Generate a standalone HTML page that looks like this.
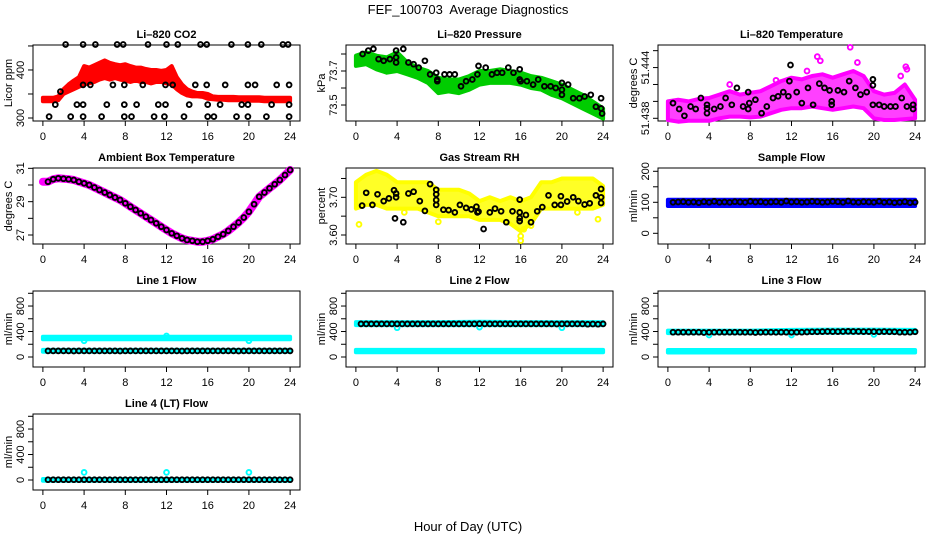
<!DOCTYPE html>
<html><head><meta charset="utf-8"><style>
html,body{margin:0;padding:0;background:#fff;}
svg{display:block;font-family:"Liberation Sans",Arial,sans-serif;}
</style></head><body>
<svg id="chart" width="936" height="540" viewBox="0 0 936 540">
<rect x="0" y="0" width="936" height="540" fill="#fff"/>
<text x="468" y="14" text-anchor="middle" font-size="13">FEF_100703&#160; Average Diagnostics</text>
<text x="468" y="531" text-anchor="middle" font-size="13">Hour of Day (UTC)</text>
</svg>
<script>
const HH=[0,0.5,1,1.5,2,2.5,3,3.5,4,4.5,5,5.5,6,6.5,7,7.5,8,8.5,9,9.5,10,10.5,11,11.5,12,12.5,13,13.5,14,14.5,15,15.5,16,16.5,17,17.5,18,18.5,19,19.5,20,20.5,21,21.5,22,22.5,23,23.5,24];
const H1=[0,1,2,3,4,5,6,7,8,9,10,11,12,13,14,15,16,17,18,19,20,21,22,23,24];
const H4=[0,4,8,12,16,20,24];
const xTicks=[0,4,8,12,16,20,24];
const xTickLabels=["0","4","8","12","16","20","24"];

// CO2
const co2Lo=[335,335,335,337,350,355,360,365,370,372,375,380,383,380,383,380,378,375,378,375,375,372,375,375,372,370,360,352,347,345,345,344,340,339,338,338,337,337,337,337,336,336,336,335,335,335,335,335,335];
const co2Hi=[342,342,342,345,360,370,378,385,408,405,410,415,420,415,412,410,412,408,405,405,402,400,400,398,400,408,385,370,360,355,352,352,350,345,344,344,344,344,343,343,343,343,343,342,342,342,342,342,342];
const co2BlkH=[2.2,3.9,5.1,7.2,7.8,10.2,12.0,13.1,15.3,15.9,18.3,19.9,21.2,23.3,23.8,3.9,4.6,6.8,7.9,9.7,11.9,12.6,14.8,15.9,17.7,19.9,20.6,22.7,23.9,1.2,3.3,3.9,6.2,7.9,9.1,11.2,11.9,14.2,16.0,17.2,19.3,19.9,22.2,23.9,0.6,2.7,3.9,5.7,7.9,8.6,10.8,11.8,13.7,16.0,16.6,18.8,19.9,21.7,23.9,1.7];
const co2BlkV=[453,453,453,453,453,453,453,453,453,453,453,453,453,453,453,369,369,369,369,369,369,369,369,369,369,369,369,369,369,328,328,328,328,328,328,328,328,328,328,328,328,328,328,328,303,303,303,303,303,303,303,303,303,303,303,303,303,303,303,355];

// Pressure
const presLo=[73.73,73.74,73.71,73.69,73.70,73.68,73.66,73.63,73.57,73.58,73.57,73.59,73.62,73.63,73.63,73.63,73.62,73.60,73.59,73.56,73.54,73.51,73.48,73.45,73.42];
const presHi=[73.79,73.81,73.79,73.78,73.81,73.75,73.72,73.70,73.66,73.65,73.65,73.67,73.70,73.70,73.71,73.70,73.69,73.67,73.66,73.64,73.62,73.59,73.56,73.52,73.48];
const presBlkH=[0.65,1.2,1.7,2.2,2.7,3.3,3.9,3.9,3.9,4.6,5.1,5.6,6.1,6.7,7.2,7.8,7.9,7.9,8.6,9.1,9.6,10.2,10.7,11.3,11.8,11.9,12.6,13.2,13.7,14.2,14.8,15.3,15.9,15.9,16.0,16.6,17.2,17.7,18.3,18.9,19.4,20.0,20.0,20.0,20.6,21.1,21.7,22.2,22.8,23.3,23.8,23.8,23.9];
const presBlkV=[73.80,73.82,73.83,73.77,73.76,73.77,73.78,73.75,73.82,73.83,73.75,73.74,73.72,73.76,73.68,73.69,73.64,73.65,73.68,73.68,73.68,73.61,73.64,73.65,73.68,73.73,73.72,73.68,73.69,73.69,73.72,73.69,73.71,73.65,73.64,73.64,73.62,73.65,73.61,73.61,73.60,73.63,73.59,73.56,73.62,73.54,73.54,73.55,73.56,73.49,73.48,73.54,73.45];

// Li-820 temperature
const tempLo=[51.4378,51.4376,51.4377,51.4377,51.4377,51.4380,51.4382,51.4382,51.4381,51.4382,51.4386,51.4390,51.4392,51.4392,51.4394,51.4392,51.4390,51.4392,51.4394,51.4392,51.4380,51.4378,51.4378,51.4379,51.4380];
const tempHi=[51.4400,51.4402,51.4400,51.4403,51.4404,51.4408,51.4412,51.4408,51.4410,51.4412,51.4418,51.4424,51.4428,51.4426,51.4430,51.4432,51.4428,51.4432,51.4436,51.4430,51.4412,51.4408,51.4410,51.4420,51.4402];
const tempOutH=[14.5,14.8,17.7,18.4,23.1,23.2,22.6,13.5,10.5,6.0];
const tempOutV=[51.4453,51.4448,51.4464,51.4446,51.4441,51.4438,51.4430,51.4436,51.4425,51.4420];
const tempBlkH=[0.5,1.1,1.6,2.2,2.7,3.2,3.8,3.8,3.8,4.5,5.1,5.6,6.2,6.7,7.3,7.8,7.8,7.9,8.5,9.1,9.6,10.2,10.7,11.2,11.7,11.8,11.9,12.5,13.0,13.6,14.1,14.7,15.2,15.7,15.9,15.9,16.5,17.1,17.6,18.2,18.7,19.3,19.9,19.9,19.9,20.5,21.0,21.6,22.1,22.7,23.2,23.8,23.8];
const tempBlkV=[51.4398,51.4391,51.4383,51.4394,51.4391,51.4404,51.4396,51.4386,51.4392,51.4391,51.4394,51.4404,51.4396,51.4416,51.4394,51.4391,51.4411,51.4398,51.4402,51.4386,51.4394,51.4404,51.4406,51.4411,51.4406,51.4424,51.4443,51.4411,51.4398,51.4416,51.4396,51.4421,51.4416,51.4413,51.4400,51.4396,51.4413,51.4411,51.4424,51.4416,51.4408,51.4411,51.4426,51.4419,51.4396,51.4396,51.4394,51.4394,51.4394,51.4404,51.4394,51.4396,51.4391];

// Ambient box temperature (index 0 = hour 0)
const ambVals=[30.2,30.2,30.35,30.4,30.38,30.35,30.3,30.2,30.1,30.0,29.85,29.7,29.55,29.4,29.25,29.1,28.9,28.7,28.5,28.3,28.1,27.9,27.7,27.5,27.3,27.1,26.95,26.8,26.7,26.65,26.6,26.6,26.65,26.75,26.9,27.05,27.25,27.5,27.75,28.05,28.4,28.85,29.3,29.55,29.8,30.05,30.3,30.6,30.9];

// Gas stream RH
const rhLo=[3.67,3.68,3.68,3.67,3.67,3.67,3.67,3.66,3.65,3.65,3.65,3.65,3.64,3.64,3.64,3.63,3.61,3.63,3.67,3.67,3.67,3.67,3.67,3.67,3.68];
const rhHi=[3.74,3.76,3.77,3.76,3.74,3.74,3.74,3.74,3.72,3.72,3.72,3.71,3.69,3.70,3.69,3.70,3.69,3.70,3.74,3.74,3.75,3.75,3.75,3.75,3.73];
const rhOutH=[0.3,16.0,16.0,23.5,21.5,4.7,8.0,9.2,16.3,17.0];
const rhOutV=[3.628,3.585,3.597,3.642,3.660,3.660,3.635,3.655,3.615,3.625];
const rhBlkH=[0.6,1.0,1.6,2.1,2.7,3.2,3.7,3.8,3.9,3.9,4.6,5.1,5.6,6.2,6.7,7.2,7.8,7.8,7.8,7.8,8.5,9.0,9.6,10.1,10.7,11.2,11.7,11.8,11.9,12.4,13.0,13.5,14.1,14.6,15.2,15.9,15.9,15.9,15.9,16.5,17.0,17.6,18.1,18.7,19.3,19.9,19.9,20.5,21.1,21.6,22.2,22.7,23.3,23.8,23.8,23.8];
const rhBlkV=[3.678,3.712,3.680,3.708,3.690,3.697,3.719,3.644,3.710,3.700,3.634,3.710,3.715,3.690,3.664,3.735,3.720,3.708,3.693,3.680,3.667,3.666,3.660,3.680,3.672,3.668,3.675,3.660,3.662,3.616,3.660,3.670,3.663,3.634,3.663,3.694,3.660,3.645,3.637,3.653,3.634,3.663,3.674,3.705,3.680,3.703,3.680,3.689,3.700,3.690,3.681,3.684,3.705,3.722,3.700,3.685];

// Flows (black = half-hour averages 0.5..24)
const sampLo=[88,88,88,88,88,88,88];
const sampHi=[108,108,108,108,108,108,108];
const sampBlk=[100,101,102,100,101,99,102,100,103,100,101,100,102,101,100,103,101,102,100,101,102,100,104,101,102,100,101,103,102,100,101,103,102,100,104,101,100,102,101,100,103,100,101,99,100,102,99,100];
const l1UpLo=[280,280,280,280,280,280,280];
const l1UpHi=[318,318,318,318,318,318,318];
const l1DnLo=[82,82,82,82,82,82,82];
const l1DnHi=[112,112,112,112,112,112,112];
const l1SpikeH=[4,12,20];
const l1SpikeV=[255,330,255];
const l1Blk=[95,95,96,95,95,94,95,96,95,95,95,96,95,95,94,95,96,95,95,95,96,95,95,95,96,95,94,95,95,96,95,95,95,96,95,95,95,94,95,96,95,95,95,96,95,95,95,96];
const l2UpLo=[500,500,500,500,500,500,500];
const l2UpHi=[548,548,548,552,548,548,548];
const l2DnLo=[75,75,75,75,75,75,75];
const l2DnHi=[112,112,112,112,112,112,112];
const l2SpikeH=[4,12,20];
const l2SpikeV=[460,470,460];
const l2Blk=[520,520,520,520,520,520,520,520,520,520,520,520,520,520,520,520,520,520,520,520,520,520,520,522,520,520,520,520,520,520,520,520,520,520,520,520,520,520,518,520,520,520,520,520,515,518,515,520];
const l3UpLo=[375,375,375,378,380,380,380];
const l3UpHi=[415,415,415,425,430,430,425];
const l3DnLo=[70,70,70,70,70,70,70];
const l3DnHi=[110,110,110,110,110,110,110];
const l3SpikeH=[4,12,20];
const l3SpikeV=[345,345,355];
const l3Blk=[390,390,390,390,390,390,385,388,390,390,390,390,390,390,388,390,385,388,390,390,388,390,390,388,390,390,392,395,395,398,400,398,398,400,402,400,400,398,398,398,395,398,395,395,390,390,390,395];
const l4Lo=[-12,-12,-12,-12,-12,-12,-12];
const l4Hi=[15,15,15,15,15,15,15];
const l4SpikeH=[4,12,20];
const l4SpikeV=[120,120,120];
const l4Blk=[5,5,5,5,5,5,5,5,5,5,5,5,5,5,5,5,5,5,5,5,5,5,5,5,5,5,5,5,5,5,5,5,5,5,5,5,5,5,5,5,5,5,5,5,5,5,5,5];

const NS="http://www.w3.org/2000/svg";
const svg=document.getElementById('chart');
const colLeft=[33,346,658], rowTop=[45,168,291,414], BW=267, BH=76;

function mk(tag,attrs,parent){const e=document.createElementNS(NS,tag);for(const k in attrs)e.setAttribute(k,attrs[k]);(parent||svg).appendChild(e);return e;}

function makePanel(p){
  const g=mk('g',{});
  
  
  const L=colLeft[p.col],T=rowTop[p.row];
  p.sx=h=>L+(h+0.96)/25.92*BW;
  p.sy=v=>T+(p.ymax-v)/(p.ymax-p.ymin)*BH;
  p.g=g;
  const box=mk('rect',{x:L,y:T,width:BW,height:BH,fill:'none',stroke:'#000','stroke-width':1},g);
  
  
  const t=mk('text',{x:L+BW/2,y:T-7,'text-anchor':'middle','font-size':11,'font-weight':'bold'},g);
  t.textContent=p.title;
  
  
  const y0=p.sy(p.ticks[0]),y1=p.sy(p.ticks[p.ticks.length-1]);
  const ya=mk('line',{x1:L,x2:L,y1:y0,y2:y1,stroke:'#000'},g);
  
  
  p.ticks.forEach((v,i)=>{
    const yy=p.sy(v);
    const tk=mk('line',{x1:L-5,x2:L,y1:yy,y2:yy,stroke:'#000'},g);
    
    
    if(p.labels[i]){
      const tl=mk('text',{x:L-9,y:yy,'text-anchor':'middle','font-size':11,transform:`rotate(-90 ${L-9} ${yy})`},g);
      tl.textContent=p.labels[i];
      
      
    }
  });
  const cy=T+BH/2;
  const yt=mk('text',{x:L-21,y:cy,'text-anchor':'middle','font-size':11,transform:`rotate(-90 ${L-21} ${cy})`},g);
  yt.textContent=p.ylab;
  
  
  const B=T+BH;
  const xa=mk('line',{x1:p.sx(0),x2:p.sx(24),y1:B,y2:B,stroke:'#000'},g);
  
  
  xTicks.forEach((h,i)=>{
    const xx=p.sx(h);
    const tk=mk('line',{x1:xx,x2:xx,y1:B,y2:B+5,stroke:'#000'},g);
    
    
    const tl=mk('text',{x:xx,y:B+19,'text-anchor':'middle','font-size':11},g);
    tl.textContent=xTickLabels[i];
    
    
  });
  return p;
}
function band(p,hs,lo,hi,color,name,op){
  let d='';
  hs.forEach((h,i)=>{d+=(i?'L':'M')+p.sx(h).toFixed(1)+' '+p.sy(hi[i]).toFixed(1);});
  for(let i=hs.length-1;i>=0;i--)d+='L'+p.sx(hs[i]).toFixed(1)+' '+p.sy(lo[i]).toFixed(1);
  const e=mk('path',{d:d+'Z',fill:color,stroke:color,'stroke-width':4,'stroke-linejoin':'round','fill-opacity':op||1},p.g);
  
  
}
function pts(p,hs,vs,color,name){
  hs.forEach((h,i)=>{
    const c=mk('circle',{cx:p.sx(h).toFixed(1),cy:p.sy(vs[i]).toFixed(1),r:2.4,fill:'none',stroke:color,'stroke-width':1.9},p.g);
    
    
  });
}
const halfH=HH.slice(1);
const flowTicks=[0,200,400,600,800,1000], flowLabels=["0","","400","","800",""];

const pC=makePanel({name:'li820-co2',col:0,row:0,title:'Li\u2013820 CO2',ylab:'Licor ppm',ymin:293.75,ymax:452,ticks:[300,350,400,450],labels:["300","","400",""]});
band(pC,HH,co2Lo,co2Hi,'#ff0000','co2-minute-band');
pts(pC,co2BlkH,co2BlkV,'#000','co2-average-point');

const pP=makePanel({name:'li820-pressure',col:1,row:0,title:'Li\u2013820 Pressure',ylab:'kPa',ymin:73.406,ymax:73.853,ticks:[73.5,73.6,73.7,73.8],labels:["73.5","","73.7",""]});
band(pP,H1,presLo,presHi,'#00cc00','pressure-minute-band');
pts(pP,presBlkH,presBlkV,'#000','pressure-average-point');

const pT=makePanel({name:'li820-temperature',col:2,row:0,title:'Li\u2013820 Temperature',ylab:'degrees C',ymin:51.43768,ymax:51.44667,ticks:[51.438,51.440,51.442,51.444,51.446],labels:["51.438","","","51.444",""]});
band(pT,H1,tempLo,tempHi,'#ff00ff','temperature-minute-band',0.75);
pts(pT,tempOutH,tempOutV,'#ff00ff','temperature-minute-outlier');
pts(pT,tempBlkH,tempBlkV,'#000','temperature-average-point');

const pA=makePanel({name:'ambient-box-temperature',col:0,row:1,title:'Ambient Box Temperature',ylab:'degrees C',ymin:26.46,ymax:31.02,ticks:[27,28,29,30,31],labels:["27","","29","","31"]});
{
  let d='';HH.forEach((h,i)=>{d+=(i?'L':'M')+pA.sx(h).toFixed(1)+' '+pA.sy(ambVals[i]).toFixed(1);});
  const e=mk('path',{d:d,fill:'none',stroke:'#ff00ff','stroke-width':8,'stroke-linejoin':'round','stroke-linecap':'round'},pA.g);
  
  
}
pts(pA,halfH,ambVals.slice(1),'#000','ambient-average-point');

const pR=makePanel({name:'gas-stream-rh',col:1,row:1,title:'Gas Stream RH',ylab:'percent',ymin:3.5761,ymax:3.7778,ticks:[3.60,3.65,3.70,3.75],labels:["3.60","","3.70",""]});
band(pR,H1,rhLo,rhHi,'#ffff00','rh-minute-band',0.85);
pts(pR,rhOutH,rhOutV,'#ffff00','rh-minute-outlier');
pts(pR,rhBlkH,rhBlkV,'#000','rh-average-point');

const pS=makePanel({name:'sample-flow',col:2,row:1,title:'Sample Flow',ylab:'ml/min',ymin:-34.5,ymax:210.6,ticks:[0,50,100,150,200],labels:["0","","100","","200"]});
band(pS,H4,sampLo,sampHi,'#0000ff','sample-flow-minute-band');
pts(pS,halfH,sampBlk,'#000','sample-flow-average-point');

const p1=makePanel({name:'line-1-flow',col:0,row:2,title:'Line 1 Flow',ylab:'ml/min',ymin:-157,ymax:1036,ticks:flowTicks,labels:flowLabels});
band(p1,H4,l1UpLo,l1UpHi,'#00ffff','line-1-upper-band');
band(p1,H4,l1DnLo,l1DnHi,'#00ffff','line-1-lower-band');
pts(p1,l1SpikeH,l1SpikeV,'#00ffff','line-1-spike');
pts(p1,halfH,l1Blk,'#000','line-1-average-point');

const p2=makePanel({name:'line-2-flow',col:1,row:2,title:'Line 2 Flow',ylab:'ml/min',ymin:-157,ymax:1036,ticks:flowTicks,labels:flowLabels});
band(p2,H4,l2UpLo,l2UpHi,'#00ffff','line-2-upper-band');
band(p2,H4,l2DnLo,l2DnHi,'#00ffff','line-2-lower-band');
pts(p2,l2SpikeH,l2SpikeV,'#00ffff','line-2-spike');
pts(p2,halfH,l2Blk,'#000','line-2-average-point');

const p3=makePanel({name:'line-3-flow',col:2,row:2,title:'Line 3 Flow',ylab:'ml/min',ymin:-157,ymax:1036,ticks:flowTicks,labels:flowLabels});
band(p3,H4,l3UpLo,l3UpHi,'#00ffff','line-3-upper-band');
band(p3,H4,l3DnLo,l3DnHi,'#00ffff','line-3-lower-band');
pts(p3,l3SpikeH,l3SpikeV,'#00ffff','line-3-spike');
pts(p3,halfH,l3Blk,'#000','line-3-average-point');

const p4=makePanel({name:'line-4-lt-flow',col:0,row:3,title:'Line 4 (LT) Flow',ylab:'ml/min',ymin:-157,ymax:1036,ticks:flowTicks,labels:flowLabels});
band(p4,H4,l4Lo,l4Hi,'#00ffff','line-4-band');
pts(p4,l4SpikeH,l4SpikeV,'#00ffff','line-4-spike');
pts(p4,halfH,l4Blk,'#000','line-4-average-point');
</script>
</body></html>
